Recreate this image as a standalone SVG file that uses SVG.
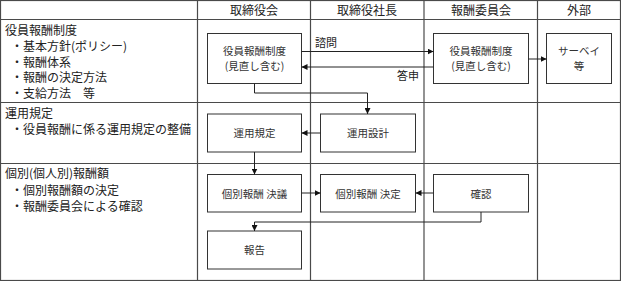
<svg xmlns="http://www.w3.org/2000/svg" width="621" height="281" viewBox="0 0 621 281">
<style>
  .grid { stroke: #4a4a4a; stroke-width: 1.2; fill: none; }
  .box rect { fill: #ffffff; stroke: #333333; stroke-width: 1; }
  .box text { font-family: "Noto Sans CJK JP", sans-serif; font-size: 10.5px; fill: #333333; text-anchor: middle; }
  .hdr { font-family: "Noto Sans CJK JP", sans-serif; font-size: 12px; fill: #222222; text-anchor: middle; }
  .lbl { font-family: "Noto Sans CJK JP", sans-serif; font-size: 12px; fill: #222222; }
  .elbl { font-family: "Noto Sans CJK JP", sans-serif; font-size: 11px; fill: #222222; }
  .conn path { stroke: #222222; stroke-width: 1; fill: none; marker-end: url(#arr); }
</style>
<defs>
  <marker id="arr" markerUnits="userSpaceOnUse" markerWidth="6" markerHeight="6" refX="6" refY="3" orient="auto">
    <path d="M0,0 L6,3 L0,6 z" fill="#111111"/>
  </marker>
</defs>
<rect width="621" height="281" fill="#ffffff"/>
<g id="table">
  <rect class="grid" x="0.5" y="0.5" width="620" height="280"/>
  <line class="grid" x1="0" y1="19.5" x2="621" y2="19.5"/>
  <line class="grid" x1="0" y1="102.5" x2="621" y2="102.5"/>
  <line class="grid" x1="0" y1="163.5" x2="621" y2="163.5"/>
  <line class="grid" x1="197.5" y1="0" x2="197.5" y2="281"/>
  <line class="grid" x1="310.5" y1="0" x2="310.5" y2="281"/>
  <line class="grid" x1="424" y1="0" x2="424" y2="281"/>
  <line class="grid" x1="537.5" y1="0" x2="537.5" y2="281"/>
  <text class="hdr" x="254" y="14.5">取締役会</text>
  <text class="hdr" x="367" y="14.5">取締役社長</text>
  <text class="hdr" x="481" y="14.5">報酬委員会</text>
  <text class="hdr" x="579" y="14.5">外部</text>
  <text class="lbl" x="5" y="35">役員報酬制度</text>
  <text class="lbl" x="11" y="51">・基本方針(ポリシー)</text>
  <text class="lbl" x="11" y="66.5">・報酬体系</text>
  <text class="lbl" x="11" y="82">・報酬の決定方法</text>
  <text class="lbl" x="11" y="98">・支給方法　等</text>
  <text class="lbl" x="5" y="118">運用規定</text>
  <text class="lbl" x="11" y="134">・役員報酬に係る運用規定の整備</text>
  <text class="lbl" x="5" y="178">個別(個人別)報酬額</text>
  <text class="lbl" x="11" y="194.5">・個別報酬額の決定</text>
  <text class="lbl" x="11" y="210.5">・報酬委員会による確認</text>
</g>
<g id="node-a" class="box">
  <rect x="207.5" y="33.5" width="94" height="50"/>
  <text x="254.5" y="54.8">役員報酬制度</text>
  <text x="254.5" y="69.8">(見直し含む)</text>
</g>
<g id="node-b" class="box">
  <rect x="433.5" y="33.5" width="95" height="50"/>
  <text x="481" y="54.8">役員報酬制度</text>
  <text x="481" y="69.8">(見直し含む)</text>
</g>
<g id="node-c" class="box">
  <rect x="546.5" y="33.5" width="65" height="50"/>
  <text x="579" y="54.8">サーベイ</text>
  <text x="579" y="69.8">等</text>
</g>
<g id="node-d" class="box">
  <rect x="207.5" y="114" width="94" height="38"/>
  <text x="254.5" y="137">運用規定</text>
</g>
<g id="node-e" class="box">
  <rect x="320.5" y="114" width="95" height="38"/>
  <text x="368" y="137">運用設計</text>
</g>
<g id="node-f" class="box">
  <rect x="207.5" y="174.5" width="94" height="37.5"/>
  <text x="254.5" y="197.5">個別報酬 決議</text>
</g>
<g id="node-g" class="box">
  <rect x="320.5" y="174.5" width="95" height="37.5"/>
  <text x="368" y="197.5">個別報酬 決定</text>
</g>
<g id="node-h" class="box">
  <rect x="433.5" y="174.5" width="95" height="37.5"/>
  <text x="481" y="197.5">確認</text>
</g>
<g id="node-i" class="box">
  <rect x="207.5" y="231" width="94" height="38"/>
  <text x="254.5" y="254">報告</text>
</g>
<g id="connectors" class="conn">
  <path d="M301.5 51.5 H433.5"/>
  <path d="M433.5 67 H301.5"/>
  <path d="M528.5 59 H546.5"/>
  <path d="M254.5 83.5 V93 H367.5 V114"/>
  <path d="M320.5 133 H301.5"/>
  <path d="M254.5 152 V174.5"/>
  <path d="M301.5 193 H320.5"/>
  <path d="M433.5 193 H415.5"/>
  <path d="M481 212 V222 H254.5 V231"/>
  <text class="elbl" x="315" y="47">諮問</text>
  <text class="elbl" x="397" y="79.5">答申</text>
</g>
</svg>
